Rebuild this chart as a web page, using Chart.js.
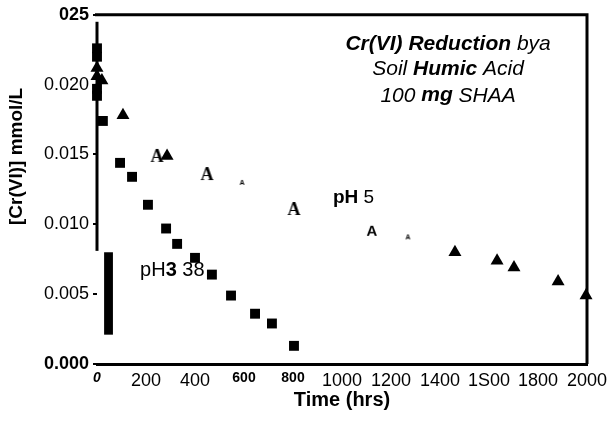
<!DOCTYPE html>
<html><head><meta charset="utf-8">
<script src="https://cdn.jsdelivr.net/npm/chart.js@4"></script>
<style>html,body{margin:0;padding:0;background:#fff}</style>
</head><body>
<canvas id="c" width="608" height="425"></canvas>
<script>
// ---- data ----
const timePH338 = [0, 0, 0, 0, 24, 94, 143, 208, 282, 327, 400, 469, 547, 645, 714, 804];
const crPH338   = [0.0226, 0.0220, 0.0197, 0.0192, 0.0174, 0.0144, 0.0134, 0.0114, 0.0097, 0.0086, 0.0076, 0.0064, 0.0049, 0.0036, 0.0029, 0.0013];
const timePH5   = [0, 0, 20, 106, 245, 286, 449, 592, 804, 1122, 1269, 1461, 1633, 1702, 1882, 1996];
const crPH5     = [0.0212, 0.0206, 0.0203, 0.0178, 0.0149, 0.0149, 0.0136, 0.0130, 0.0111, 0.0095, 0.0091, 0.0080, 0.0074, 0.0069, 0.0059, 0.0049];
const xTickLabels = ['0', '200', '400', '600', '800', '1000', '1200', '1400', '1S00', '1800', '2000'];
const yTickLabels = ['0.000', '0.005', '0.010', '0.015', '0.020', '025'];

const SANS = '"Liberation Sans", Arial, sans-serif';

// marker glyphs (the scan shows some triangles as letter "A")
function letterImg(px, family) {
  const c = document.createElement('canvas');
  c.width = Math.ceil(px * 0.9); c.height = Math.ceil(px);
  const g = c.getContext('2d');
  g.font = 'bold ' + px + 'px ' + family;
  g.textAlign = 'center'; g.textBaseline = 'middle'; g.fillStyle = '#000';
  g.fillText('A', c.width / 2, c.height / 2 + px * 0.05);
  return c;
}
const bigA = letterImg(18, '"Liberation Serif", "DejaVu Serif", serif');
const midA = letterImg(15, SANS);
const tinyA = letterImg(7, SANS);
const ph5Glyphs = ['triangle','triangle','triangle','triangle', bigA,'triangle', bigA, tinyA, bigA, midA, tinyA,
                   'triangle','triangle','triangle','triangle','triangle'];

const pts = (xs, ys) => xs.map((x, i) => ({x: x, y: ys[i]}));

function drawRuns(ctx, runs, x, y, align) {
  let total = 0;
  runs.forEach(r => { ctx.font = r.f; total += ctx.measureText(r.t).width; });
  let cx = align === 'center' ? x - total / 2 : x;
  ctx.textBaseline = 'middle'; ctx.textAlign = 'left'; ctx.fillStyle = '#000';
  runs.forEach(r => { ctx.font = r.f; ctx.fillText(r.t, cx, y); cx += ctx.measureText(r.t).width; });
}

const decor = {
  id: 'decor',
  afterDatasetsDraw(chart) {
    const {ctx, chartArea: a, scales: {x, y}} = chart;
    ctx.save();
    ctx.strokeStyle = '#000';
    ctx.lineWidth = 3;
    ctx.beginPath();
    ctx.moveTo(a.left - 2, a.top); ctx.lineTo(a.right, a.top);
    ctx.lineTo(a.right, a.bottom);
    ctx.stroke();
    ctx.beginPath();
    ctx.moveTo(a.left, y.getPixelForValue(0.0245));
    ctx.lineTo(a.left, y.getPixelForValue(0.0081));
    ctx.stroke();
    // thick bar artifact on the left
    ctx.fillStyle = '#000';
    const bx0 = x.getPixelForValue(29), bx1 = x.getPixelForValue(65);
    const by0 = y.getPixelForValue(0.0080), by1 = y.getPixelForValue(0.0021);
    ctx.fillRect(bx0, by0, bx1 - bx0, by1 - by0);

    // annotation block
    const tx = x.getPixelForValue(1433);
    const F = 21;
    drawRuns(ctx, [{t: 'Cr(VI) Reduction', f: 'italic bold ' + F + 'px ' + SANS}, {t: ' bya', f: 'italic ' + F + 'px ' + SANS}], tx, y.getPixelForValue(0.02293), 'center');
    drawRuns(ctx, [{t: 'Soil ', f: 'italic ' + F + 'px ' + SANS}, {t: 'Humic', f: 'italic bold ' + F + 'px ' + SANS}, {t: ' Acid', f: 'italic ' + F + 'px ' + SANS}], tx, y.getPixelForValue(0.02114), 'center');
    drawRuns(ctx, [{t: '100 ', f: 'italic ' + F + 'px ' + SANS}, {t: 'mg', f: 'italic bold ' + F + 'px ' + SANS}, {t: ' SHAA', f: 'italic ' + F + 'px ' + SANS}], tx, y.getPixelForValue(0.01921), 'center');

    drawRuns(ctx, [{t: 'pH', f: 'bold 19px ' + SANS}, {t: ' 5', f: '19px ' + SANS}], x.getPixelForValue(963), y.getPixelForValue(0.01193), 'left');
    drawRuns(ctx, [{t: 'pH', f: '20px ' + SANS}, {t: '3', f: 'bold 20px ' + SANS}, {t: ' 38', f: '20px ' + SANS}], x.getPixelForValue(176), y.getPixelForValue(0.00671), 'left');

    // y-axis title
    ctx.save();
    ctx.translate(17, (a.top + a.bottom) / 2 - 33);
    ctx.rotate(-Math.PI / 2);
    ctx.font = 'bold 19px ' + SANS;
    ctx.textAlign = 'center'; ctx.textBaseline = 'middle';
    ctx.fillText('[Cr(VI)] mmol/L', 0, 0);
    ctx.restore();
    ctx.restore();
  }
};

new Chart(document.getElementById('c'), {
  type: 'scatter',
  data: {
    datasets: [
      {label: 'pH 3.38', data: pts(timePH338, crPH338), pointStyle: 'rect', pointRadius: 7, pointHoverRadius: 7,
       backgroundColor: '#000', borderColor: '#000', borderWidth: 0, clip: false},
      {label: 'pH 5', data: pts(timePH5, crPH5), pointStyle: ph5Glyphs, pointRadius: 7.5, pointHoverRadius: 7.5,
       backgroundColor: '#000', borderColor: '#000', borderWidth: 0, clip: false}
    ]
  },
  options: {
    responsive: false, devicePixelRatio: 1, animation: false,
    layout: {padding: {top: 14, right: 21, left: 0, bottom: 0}},
    plugins: {legend: {display: false}, tooltip: {enabled: false}},
    scales: {
      x: {
        type: 'linear', min: 0, max: 2000,
        afterFit: s => { s.height = 61; s.paddingLeft = 0; s.paddingRight = 0; },
        border: {display: true, color: '#000', width: 3},
        grid: {drawOnChartArea: false, drawTicks: false},
        ticks: {
          stepSize: 200, padding: 6, color: '#000', maxRotation: 0, autoSkip: false,
          callback: v => xTickLabels[Math.round(v / 200)],
          font: c => {
            const v = c.tick ? c.tick.value : 1;
            if (v === 0) return {family: SANS, size: 14, style: 'italic', weight: 'bold'};
            if (v === 600 || v === 800) return {family: SANS, size: 14, weight: 'bold'};
            return {family: SANS, size: 18};
          }
        },
        title: {display: true, text: 'Time (hrs)', color: '#000', font: {family: SANS, size: 20, weight: 'bold'}, padding: {top: 0, bottom: 13}}
      },
      y: {
        type: 'linear', min: 0, max: 0.025,
        afterFit: s => { s.width = 97; },
        border: {display: false},
        grid: {drawOnChartArea: false, drawTicks: true, tickLength: 4, color: '#000', lineWidth: 2},
        ticks: {
          stepSize: 0.005, padding: 4, color: '#000',
          callback: v => yTickLabels[Math.round(v / 0.005)],
          font: c => {
            const v = c.tick ? Math.round(c.tick.value / 0.005) : 1;
            if (v === 0 || v === 5) return {family: SANS, size: 18, weight: 'bold'};
            return {family: SANS, size: 18};
          }
        }
      }
    }
  },
  plugins: [decor]
});
</script>
</body></html>
